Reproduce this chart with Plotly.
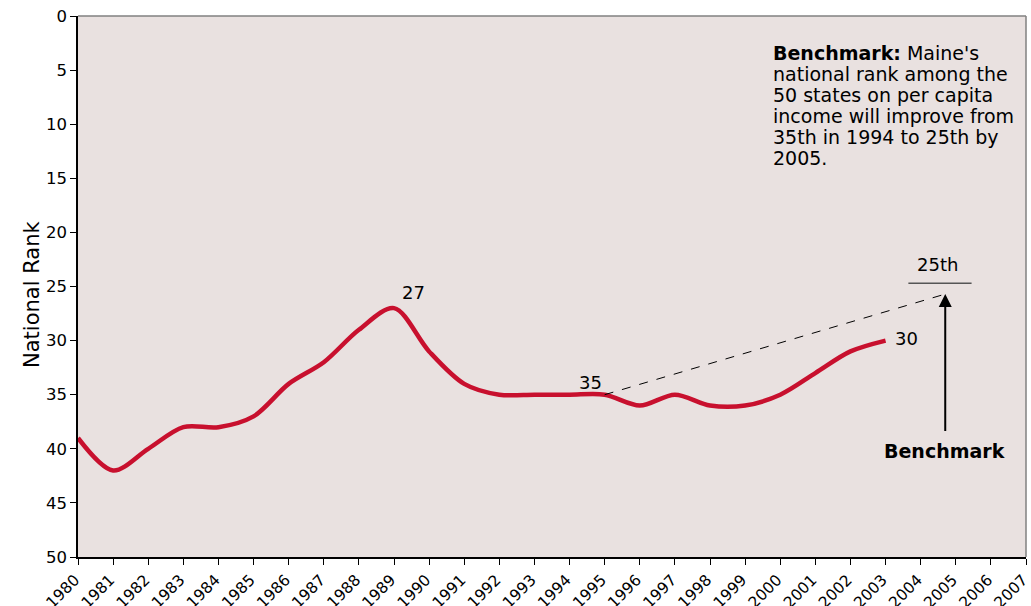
import plotly.graph_objects as go

years = list(range(1980, 2004))
rank = [39, 42, 40, 38, 38, 37, 34, 32, 29, 27, 31, 34, 35, 35, 35, 35, 36, 35, 36, 36, 35, 33, 31, 30]
x_ticks = list(range(1980, 2008))
y_ticks = list(range(0, 51, 5))

bench_start = (1995, 35)
bench_end = (2004.7, 25.7)
arrow_base = 38.5

box_lines = [
    "<b>Benchmark:</b> Maine's",
    "national rank among the",
    "50 states on per capita",
    "income will improve from",
    "35th in 1994 to 25th by",
    "2005.",
]

FONT = "DejaVu Sans"
BG = "#e9e1e0"
RED = "#c8102e"

W, H = 1031, 606
ML, MR, MT, MB = 78, 5, 16, 49
PW, PH = W - ML - MR, H - MT - MB


def px_x(px):
    return (px - ML) / PW


def px_y(py):
    return 1 - (py - MT) / PH


fig = go.Figure()
fig.add_trace(go.Scatter(
    x=years, y=rank, mode="lines",
    line=dict(color=RED, width=4.5, shape="spline", smoothing=0.9),
    hoverinfo="x+y", showlegend=False,
))
fig.add_trace(go.Scatter(
    x=[bench_start[0], bench_end[0]], y=[bench_start[1], bench_end[1]],
    mode="lines", line=dict(color="black", width=1, dash="dash"),
    hoverinfo="skip", showlegend=False,
))

fig.update_layout(
    width=W, height=H,
    margin=dict(l=ML, r=MR, t=MT, b=MB, autoexpand=False),
    paper_bgcolor="white", plot_bgcolor=BG,
    font=dict(family=FONT, color="black"),
    showlegend=False,
)
fig.update_xaxes(
    range=[1980, 2007], tickmode="array", tickvals=x_ticks,
    ticktext=[str(v) for v in x_ticks], tickangle=-45,
    ticks="outside", ticklen=6, tickcolor="black",
    showline=True, linecolor="black", linewidth=1.5,
    showgrid=False, zeroline=False, automargin=False,
    ticklabeloverflow="allow", ticklabelshift=-3,
    tickfont=dict(size=15.5, family=FONT),
)
fig.update_yaxes(
    range=[50, 0], tickmode="array", tickvals=y_ticks,
    ticks="outside", ticklen=6, tickcolor="black",
    showline=True, linecolor="black", linewidth=1.5,
    showgrid=False, zeroline=False, automargin=False,
    tickfont=dict(size=16.5, family=FONT),
)

# y axis title
fig.add_annotation(x=px_x(18), y=px_y(295), xref="paper", yref="paper",
                   text="National Rank", textangle=-90, showarrow=False,
                   font=dict(size=21, family=FONT, color="black"))

# top and right gray border
fig.add_shape(type="line", xref="paper", yref="paper", x0=0, x1=1, y0=1, y1=1,
              line=dict(color="#808080", width=1.5))
fig.add_shape(type="line", xref="paper", yref="paper", x0=1, x1=1, y0=0, y1=1,
              line=dict(color="#808080", width=1.5))
# 25th target line
fig.add_shape(type="line", xref="x", yref="y", x0=2003.65, x1=2005.45, y0=24.7, y1=24.7,
              line=dict(color="#555555", width=1.5))

# arrow
fig.add_annotation(x=bench_end[0], y=bench_end[1], ax=bench_end[0], ay=arrow_base,
                   xref="x", yref="y", axref="x", ayref="y", text="",
                   showarrow=True, arrowhead=2, arrowsize=1.3, arrowwidth=2, arrowcolor="black")

labels = [
    (1989.55, 25.6, "27"),
    (1994.6, 33.9, "35"),
    (2003.6, 29.85, "30"),
    (2004.47, 23.0, "25th"),
]
for lx, ly, t in labels:
    fig.add_annotation(x=lx, y=ly, xref="x", yref="y", text=t, showarrow=False,
                       font=dict(size=18, family=FONT, color="black"))

fig.add_annotation(x=2004.67, y=40.2, xref="x", yref="y", text="<b>Benchmark</b>",
                   showarrow=False, font=dict(size=19, family=FONT, color="black"))

for i, line in enumerate(box_lines):
    fig.add_annotation(
        x=px_x(771), y=px_y(53 + 21 * i), xref="paper", yref="paper",
        showarrow=False, text=line, align="left", xanchor="left", yanchor="middle",
        font=dict(size=19, family=FONT, color="black"),
    )

fig.write_html(
    "out.html",
    config={"displayModeBar": False},
    post_script="document.body.style.margin='0px';document.body.style.overflow='hidden';",
)
